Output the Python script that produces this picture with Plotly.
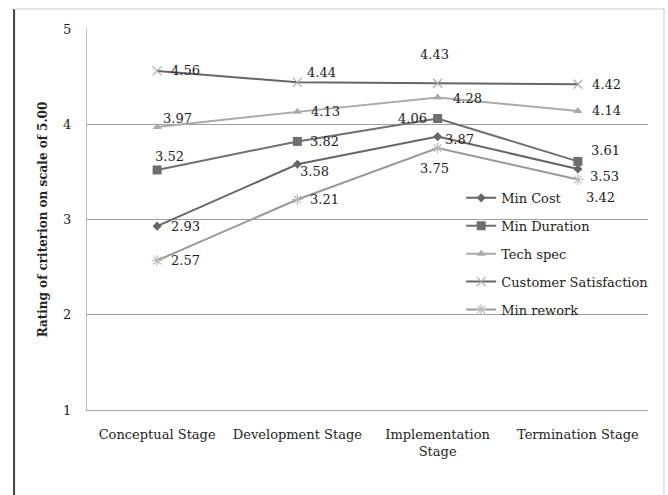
import plotly.graph_objects as go

# Project stages on the x axis
stages = ["Conceptual Stage", "Development Stage", "Implementation<br>Stage", "Termination Stage"]

# Ratings per criterion (scale of 5.00)
min_cost = [2.93, 3.58, 3.87, 3.53]
min_duration = [3.52, 3.82, 4.06, 3.61]
tech_spec = [3.97, 4.13, 4.28, 4.14]
customer_satisfaction = [4.56, 4.44, 4.43, 4.42]
min_rework = [2.57, 3.21, 3.75, 3.42]

y_ticks = [1, 2, 3, 4, 5]

FONT = "DejaVu Serif"

# name, values, line colour, marker symbol, marker colour, marker size, label offsets (dx, dy in px)
series = [
    ("Min Cost", min_cost, "#666666", "diamond", "#666666", 7,
     [(28, 0), (17, -7), (22, -3), (27, -7)]),
    ("Min Duration", min_duration, "#707070", "square", "#6e6e6e", 9,
     [(12, 13), (27, 0), (-25, 0), (28, 11)]),
    ("Tech spec", tech_spec, "#aaaaaa", "triangle-up", "#aaaaaa", 8,
     [(20, 9), (28, 0), (30, -1), (29, 0)]),
    ("Customer Satisfaction", customer_satisfaction, "#666666", "x-thin", "#aaaaaa", 9,
     [(28, 0), (24, 10), (-3, 29), (29, 0)]),
    ("Min rework", min_rework, "#999999", "asterisk", "#bbbbbb", 9,
     [(28, 0), (27, 0), (-3, -20), (23, -18)]),
]

fig = go.Figure()
annotations = []
for i, (name, vals, lcol, sym, mcol, msize, offs) in enumerate(series):
    thin = sym in ("x-thin", "asterisk")
    fig.add_trace(go.Scatter(
        x=stages, y=vals, name=name, mode="lines+markers",
        legendgroup=name,
        line=dict(color=lcol, width=2),
        marker=dict(symbol=sym, size=msize, color=mcol,
                    line=dict(color=mcol, width=1.2 if thin else 0)),
    ))
    for x, v, (dx, dy) in zip(stages, vals, offs):
        annotations.append(dict(
            x=x, y=v, xref="x", yref="y", text=f"{v:.2f}", showarrow=False,
            xshift=dx, yshift=dy, font=dict(family=FONT, size=13, color="#222222"),
        ))

# Outer frame around the chart
shapes = [
    dict(type="line", xref="paper", yref="paper", x0=-0.130, x1=-0.130, y0=-0.24, y1=1.0525,
         line=dict(color="#444444", width=2)),
    dict(type="line", xref="paper", yref="paper", x0=-0.130, x1=1.0285, y0=1.0525, y1=1.0525,
         line=dict(color="#cccccc", width=1)),
    dict(type="line", xref="paper", yref="paper", x0=1.0285, x1=1.0285, y0=-0.24, y1=1.0525,
         line=dict(color="#cccccc", width=1)),
]

fig.update_layout(
    width=668, height=495,
    margin=dict(l=87, r=20, t=29, b=85),
    paper_bgcolor="white", plot_bgcolor="white",
    font=dict(family=FONT, size=13, color="#222222"),
    showlegend=True,
    legend=dict(x=0.667, y=0.596, xanchor="left", yanchor="top",
                bgcolor="rgba(0,0,0,0)", traceorder="grouped", tracegroupgap=8,
                font=dict(family=FONT, size=13, color="#222222")),
    annotations=annotations,
    shapes=shapes,
    xaxis=dict(
        type="category", range=[-0.5, 3.5], showgrid=False, zeroline=False,
        showline=True, linecolor="#aaaaaa", linewidth=1,
        ticks="outside", ticklen=12, tickcolor="rgba(0,0,0,0)",
        tickfont=dict(family=FONT, size=13, color="#222222"),
    ),
    yaxis=dict(
        range=[1, 5], tickvals=y_ticks, showgrid=True, gridcolor="#a0a0a0", gridwidth=1,
        zeroline=False, showline=True, linecolor="#bbbbbb", linewidth=1,
        ticks="outside", ticklen=12, tickcolor="rgba(0,0,0,0)",
        tickfont=dict(family=FONT, size=13, color="#222222"),
        title=dict(text="<b>Rating of criterion on scale of 5.00</b>",
                   font=dict(family=FONT, size=12, color="#222222"), standoff=12),
    ),
)

fig.write_html("out.html")
